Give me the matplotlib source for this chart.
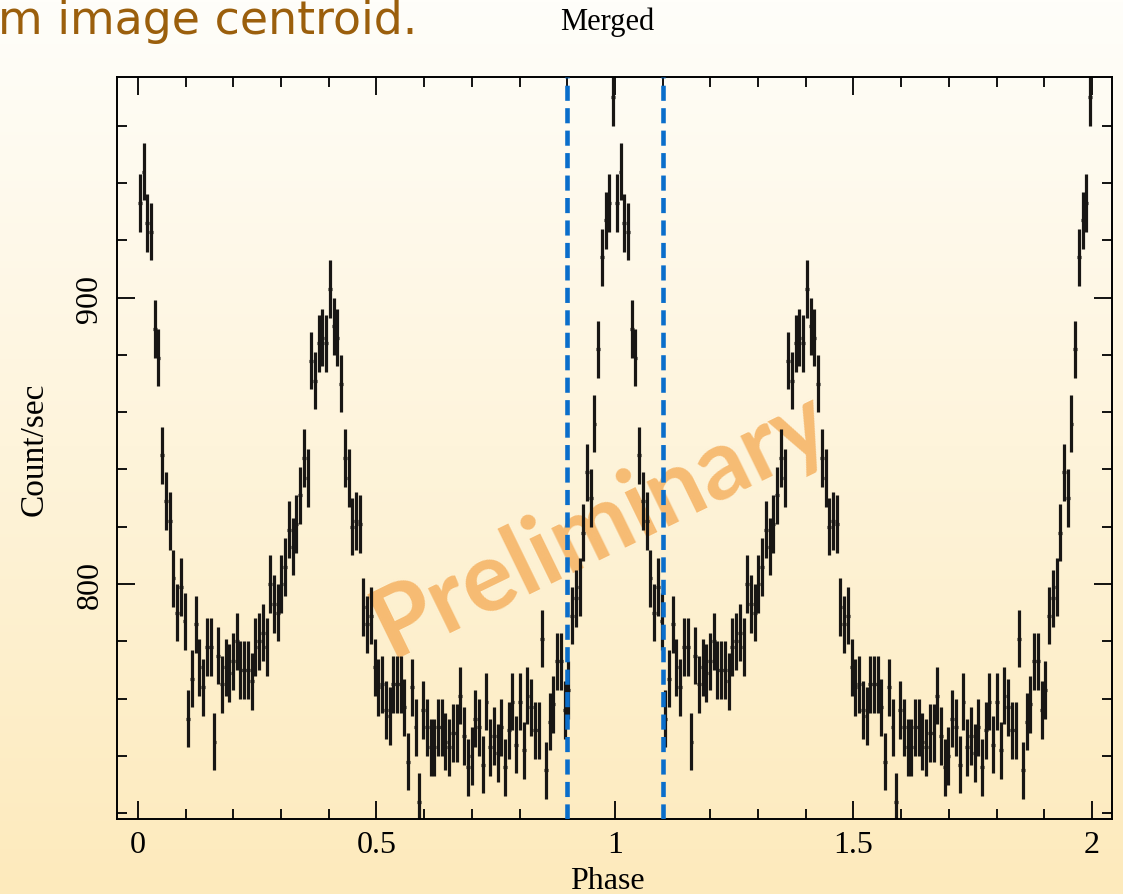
import numpy as np
import matplotlib
matplotlib.use("Agg")
import matplotlib.pyplot as plt
from matplotlib.ticker import MultipleLocator

# folded pulse profile, 128 phase bins for one cycle (count/sec)
rate = [933, 944, 926, 923, 889, 879, 845, 829, 822, 802,
        790, 799, 787, 753, 767, 786, 771, 764, 778, 778,
        745, 775, 765, 771, 769, 773, 780, 770, 770, 770,
        766, 778, 780, 783, 778, 800, 793, 790, 800, 806,
        819, 813, 821, 831, 844, 837, 878, 871, 884, 886,
        884, 903, 890, 886, 870, 844, 837, 820, 822, 821,
        792, 786, 789, 771, 764, 765, 756, 754, 765, 765,
        765, 757, 738, 764, 750, 724, 756, 750, 743, 743,
        750, 750, 745, 743, 748, 748, 761, 747, 736, 740,
        753, 750, 737, 759, 743, 747, 741, 750, 736, 749,
        759, 744, 759, 742, 761, 757, 749, 749, 781, 735,
        752, 758, 773, 773, 756, 763, 789, 795, 799, 818,
        839, 830, 856, 882, 914, 927, 933, 970]
rate_err = 10.0
n_bins = len(rate)
bin_centres = (np.arange(n_bins) + 0.5) / n_bins

cut_lines = [0.9, 1.1]
x_ticks = [0, 0.5, 1, 1.5, 2]
x_labels = ["0", "0.5", "1", "1.5", "2"]
y_ticks = [800, 900]
y_labels = ["800", "900"]

# two cycles shown, as usual
phase = np.concatenate([bin_centres, bin_centres + 1])
counts = np.concatenate([rate, rate])

serif = ["Liberation Serif", "DejaVu Serif"]

fig = plt.figure(figsize=(11.23, 8.95), dpi=100)

# slide background gradient
bg = fig.add_axes([0, 0, 1, 1], zorder=-10)
bg.axis("off")
t = np.linspace(0, 1, 256)[:, None, None]
top = np.array([255, 254, 250]) / 255
bottom = np.array([253, 234, 188]) / 255
bg.imshow(top + (bottom - top) * t, aspect="auto", extent=[0, 1, 0, 1])

ax = fig.add_axes([117 / 1123, 1 - 820 / 895, (1112 - 117) / 1123, (820 - 78) / 895])
ax.set_facecolor("none")

ax.errorbar(phase, counts, yerr=rate_err, xerr=0.5 / n_bins, fmt="none",
            ecolor="#181614", elinewidth=2.3, capsize=0, zorder=2)
for x in cut_lines:
    ax.axvline(x, color="#0a6ecb", lw=3.3, ls=(0, (3.3, 1.6)), zorder=3)

ax.text(600 / 1123, 1 - 524 / 895, "Preliminary", transform=fig.transFigure,
        rotation=26, ha="center", va="center", fontsize=70, color="#f5b262",
        alpha=0.85, family="Lato", weight="bold", zorder=0.5)

ax.set_xlim(-0.044, 2.042)
ax.set_ylim(718, 977)
ax.set_xticks(x_ticks)
ax.set_xticklabels(x_labels, family=serif, fontsize=23)
ax.set_yticks(y_ticks)
ax.set_yticklabels(y_labels, family=serif, fontsize=23, rotation=90, va="center")
ax.xaxis.set_minor_locator(MultipleLocator(0.1))
ax.yaxis.set_minor_locator(MultipleLocator(20))
ax.tick_params(which="both", direction="in", top=True, right=True, width=1.3)
ax.tick_params(which="major", length=13)
ax.tick_params(which="minor", length=7)
ax.tick_params(axis="x", pad=8)
ax.tick_params(axis="y", pad=9)
for s in ax.spines.values():
    s.set_linewidth(1.4)

ax.set_xlabel("Phase", family=serif, fontsize=23, labelpad=4)
ax.xaxis.set_label_coords(0.493, -0.063)
ax.set_ylabel("Count/sec", family=serif, fontsize=24)
ax.yaxis.set_label_coords(-0.068, 0.5)

fig.text(607 / 1123, 1 - 22 / 895, "Merged", ha="center", va="center",
         family=serif, fontsize=22)
fig.text(-0.002, 1 - 22 / 895, "m image centroid.", ha="left", va="center",
         color="#9b5f0c", family="DejaVu Sans", fontsize=33)

fig.savefig("out.png", dpi=100)
